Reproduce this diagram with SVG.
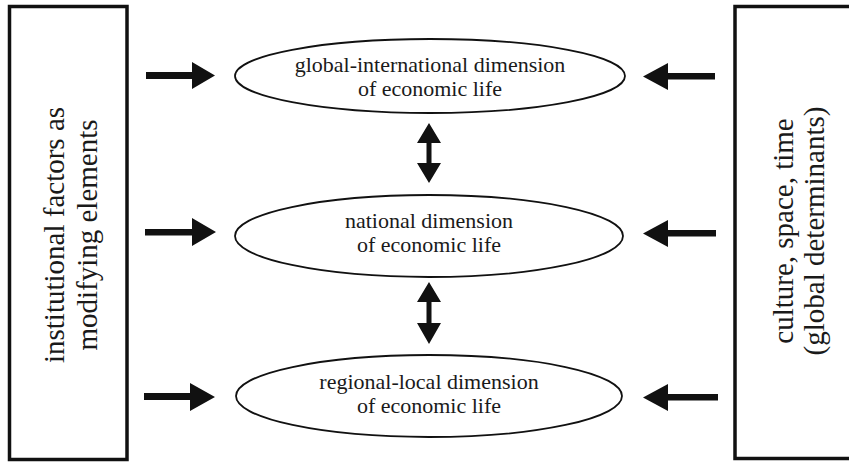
<svg xmlns="http://www.w3.org/2000/svg" width="849" height="462" viewBox="0 0 849 462">
<style>
.box{fill:#fff;stroke:#111;stroke-width:3.5}
.ell{fill:#fff;stroke:#111;stroke-width:1.8}
.side{font-size:29px;fill:#1a1a1a;text-anchor:middle}
.lbl{font-size:22px;fill:#1a1a1a;text-anchor:middle}
.arr{fill:#111}
</style>
<rect width="849" height="462" fill="#fff"/>
<g id="left-box">
<rect class="box" x="9.5" y="6.5" width="117.5" height="453"/>
<text class="side" font-family="'Liberation Serif', 'Times New Roman', 'DejaVu Serif', serif" transform="translate(64,235) rotate(-90)"><tspan x="0" y="0">institutional factors as</tspan><tspan x="0" y="33">modifying elements</tspan></text>
</g>
<g id="right-box">
<rect class="box" x="735" y="6.5" width="200" height="452"/>
<text class="side" font-family="'Liberation Serif', 'Times New Roman', 'DejaVu Serif', serif" transform="translate(793,231) rotate(-90)"><tspan x="0" y="0">culture, space, time</tspan><tspan x="0" y="31">(global determinants)</tspan></text>
</g>
<g id="global">
<ellipse class="ell" cx="430" cy="76" rx="195" ry="37"/>
<text class="lbl" font-family="'Liberation Serif', 'Times New Roman', 'DejaVu Serif', serif"><tspan x="430" y="72">global-international dimension</tspan><tspan x="430" y="96">of economic life</tspan></text>
</g>
<g id="national">
<ellipse class="ell" cx="429" cy="236" rx="194" ry="41"/>
<text class="lbl" font-family="'Liberation Serif', 'Times New Roman', 'DejaVu Serif', serif"><tspan x="429" y="228">national dimension</tspan><tspan x="429" y="252">of economic life</tspan></text>
</g>
<g id="regional">
<ellipse class="ell" cx="429" cy="396" rx="193" ry="41"/>
<text class="lbl" font-family="'Liberation Serif', 'Times New Roman', 'DejaVu Serif', serif"><tspan x="429" y="389">regional-local dimension</tspan><tspan x="429" y="413">of economic life</tspan></text>
</g>
<g id="connectors">
<polygon class="arr" points="146,72 192,72 192,62 215,75.5 192,89 192,79 146,79"/>
<polygon class="arr" points="145,229 192,229 192,218 216,232 192,246 192,235.5 145,235.5"/>
<polygon class="arr" fill="#222" points="144,393 190,393 190,383 215,397 190,411 190,400 144,400"/>
<polygon class="arr" points="715,73 668,73 668,63 643,76.5 668,90 668,79.5 715,79.5"/>
<polygon class="arr" points="716,230 668,230 668,220 643,233.5 668,247 668,236.5 716,236.5"/>
<polygon class="arr" points="718,394 668,394 668,384 643,397.5 668,411 668,400.5 718,400.5"/>
<polygon class="arr" points="429,123 441,143 431.5,143 431.5,163 441,163 429,183 417,163 426.5,163 426.5,143 417,143"/>
<polygon class="arr" points="429,282 441,302 431.5,302 431.5,323 441,323 429,344 417,323 426.5,323 426.5,302 417,302"/>
</g>
</svg>
